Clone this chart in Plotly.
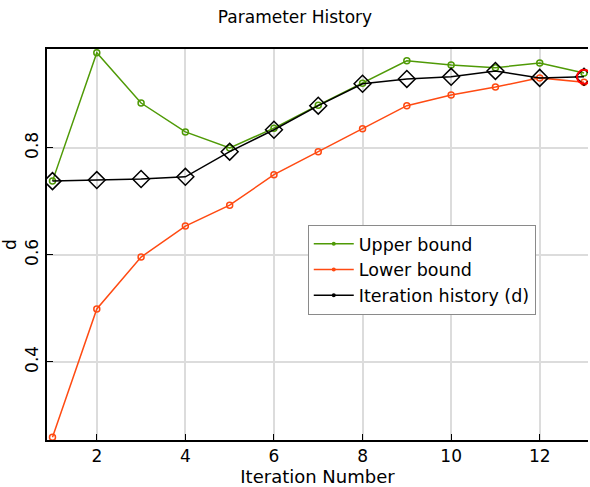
import plotly.graph_objects as go

iterations = list(range(1, 14))
upper_bound = [0.738, 0.978, 0.884, 0.830, 0.800, 0.837, 0.880, 0.921, 0.963, 0.955, 0.950, 0.959, 0.940]
lower_bound = [0.259, 0.499, 0.596, 0.654, 0.693, 0.750, 0.793, 0.836, 0.879, 0.899, 0.914, 0.931, 0.923]
history_d = [0.738, 0.740, 0.742, 0.746, 0.793, 0.834, 0.879, 0.920, 0.929, 0.933, 0.944, 0.931, 0.933]
series_names = ["Upper bound", "Lower bound", "Iteration history (d)"]

GREEN = "#4f9a06"
ORANGE = "#ff4a12"
FONT = "DejaVu Sans"

fig = go.Figure()
fig.add_trace(go.Scatter(
    x=iterations, y=upper_bound, name=series_names[0], mode="lines+markers", showlegend=False,
    line=dict(color=GREEN, width=1.5),
    marker=dict(symbol="circle-open", size=6, color=GREEN, line=dict(width=1.5))))
fig.add_trace(go.Scatter(
    x=iterations, y=lower_bound, name=series_names[1], mode="lines+markers", showlegend=False,
    line=dict(color=ORANGE, width=1.5),
    marker=dict(symbol="circle-open", size=6, color=ORANGE, line=dict(width=1.5))))
fig.add_trace(go.Scatter(
    x=iterations, y=history_d, name=series_names[2], mode="lines+markers", showlegend=False,
    line=dict(color="black", width=1.5),
    marker=dict(symbol="diamond-open", size=13, color="black", line=dict(width=1.5))))
fig.add_trace(go.Scatter(
    x=[iterations[-1]], y=[history_d[-1]], mode="markers", showlegend=False,
    marker=dict(symbol="circle-open", size=14, color="red", line=dict(width=2))))

# legend entries: line with small dot
for name, col in zip(series_names, [GREEN, ORANGE, "black"]):
    fig.add_trace(go.Scatter(
        x=[None], y=[None], name=name, mode="lines+markers",
        line=dict(color=col, width=1.5), marker=dict(symbol="circle", size=4, color=col)))

fig.update_layout(
    width=590, height=487,
    margin=dict(l=47, r=2, t=49, b=47),
    paper_bgcolor="white", plot_bgcolor="white",
    font=dict(family=FONT, color="black"),
    title=dict(text="Parameter History", x=0.5, xanchor="center", y=0.978, yanchor="top",
               font=dict(size=17, family=FONT)),
    legend=dict(x=0.482, y=0.55, xanchor="left", yanchor="top",
                bgcolor="white", bordercolor="#8a8a8a", borderwidth=1,
                font=dict(size=17.5, family=FONT), tracegroupgap=0, itemwidth=40),
    showlegend=True,
)
fig.update_xaxes(
    range=[0.876, 13.09], tickvals=[2, 4, 6, 8, 10, 12],
    ticks="inside", ticklen=6, tickcolor="black",
    showline=True, linecolor="black", linewidth=1.5, mirror=True,
    showgrid=True, gridcolor="#dcdcdc", gridwidth=1.5, zeroline=False,
    tickfont=dict(size=17), title=dict(text="Iteration Number", font=dict(size=18), standoff=0))
fig.update_yaxes(
    range=[0.254, 0.985], tickvals=[0.4, 0.6, 0.8], ticktext=["0.4", "0.6", "0.8"],
    ticks="inside", ticklen=6, tickcolor="black", tickangle=-90,
    showline=True, linecolor="black", linewidth=1.5,
    showgrid=True, gridcolor="#dcdcdc", gridwidth=1.5, zeroline=False,
    tickfont=dict(size=17), title=dict(text="d", font=dict(size=17), standoff=2))

fig.write_html("out.html")
